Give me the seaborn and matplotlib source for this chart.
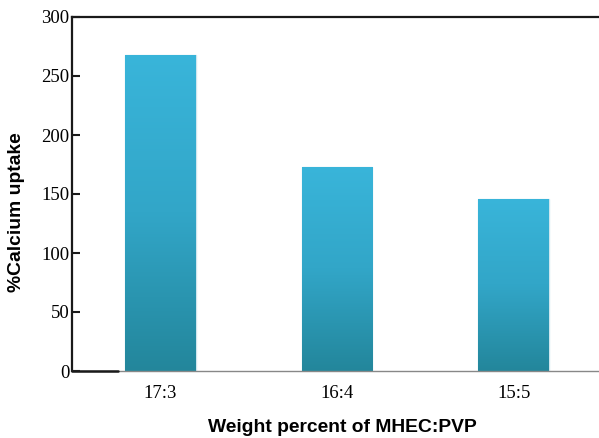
import matplotlib
matplotlib.use("Agg")
import matplotlib.pyplot as plt
from matplotlib.colors import LinearSegmentedColormap
import numpy as np
import pandas as pd
import seaborn as sns

# Data
ratios = ["17:3", "16:4", "15:5"]
uptake = [268, 173, 146]

y_ticks = [0, 50, 100, 150, 200, 250, 300]

TOP_COLOR = "#39b5da"
MID_COLOR = "#32a6c8"
BOTTOM_COLOR = "#23869b"
EDGE_COLOR = "#cfe6ee"

df = pd.DataFrame({"ratio": ratios, "uptake": uptake})

sns.set_style("white")
plt.rcParams["font.family"] = ["Liberation Serif", "DejaVu Serif"]
plt.rcParams["text.color"] = "black"
plt.rcParams["axes.labelcolor"] = "black"
plt.rcParams["xtick.color"] = "black"
plt.rcParams["ytick.color"] = "black"

fig = plt.figure(figsize=(5.99, 4.38), dpi=100)
ax = fig.add_axes([72 / 599, 67 / 438, 530 / 599, 354 / 438])

sns.barplot(data=df, x="ratio", y="uptake", width=0.4, color=TOP_COLOR,
            edgecolor=EDGE_COLOR, linewidth=1.0, ax=ax)

# vertical gradient fill, clipped to each bar
cmap = LinearSegmentedColormap.from_list(
    "bar", [BOTTOM_COLOR, MID_COLOR, TOP_COLOR], N=1024)
grad = np.linspace(0, 1, 1024).reshape(-1, 1)
for patch in ax.patches:
    x0, y0 = patch.get_x(), patch.get_y()
    w, h = patch.get_width(), patch.get_height()
    im = ax.imshow(grad, cmap=cmap, origin="lower", aspect="auto",
                   interpolation="bilinear",
                   extent=[x0, x0 + w, y0, y0 + h], zorder=patch.get_zorder())
    im.set_clip_path(patch)

ax.set_xlim(-0.5, 2.5)
ax.set_ylim(0, 300)
ax.set_yticks(y_ticks)

for side in ["left", "top"]:
    ax.spines[side].set_visible(True)
    ax.spines[side].set_color("#1a1a1a")
    ax.spines[side].set_linewidth(1.6)
ax.spines["right"].set_visible(False)
ax.spines["bottom"].set_color("#888888")
ax.spines["bottom"].set_linewidth(1.0)
# short dark stub of the x axis next to the origin
ax.axhline(0, xmin=0, xmax=46 / 530, color="#1a1a1a", linewidth=1.8,
           clip_on=False, zorder=5)

ax.tick_params(axis="y", direction="in", length=6, width=1.5,
               color="#1a1a1a", left=True, pad=2, labelsize=13.5)
ax.tick_params(axis="x", length=0, pad=10, labelsize=13.5)

ax.set_xlabel("Weight percent of MHEC:PVP", family=["Liberation Sans"],
              fontweight="bold", fontsize=13.9)
ax.set_ylabel("%Calcium uptake", family=["Liberation Sans"],
              fontweight="bold", fontsize=13.9)
ax.xaxis.set_label_coords(0.511, -0.137)
ax.yaxis.set_label_coords(-0.089, 0.449)

fig.savefig("out.png", dpi=100)
plt.close(fig)
